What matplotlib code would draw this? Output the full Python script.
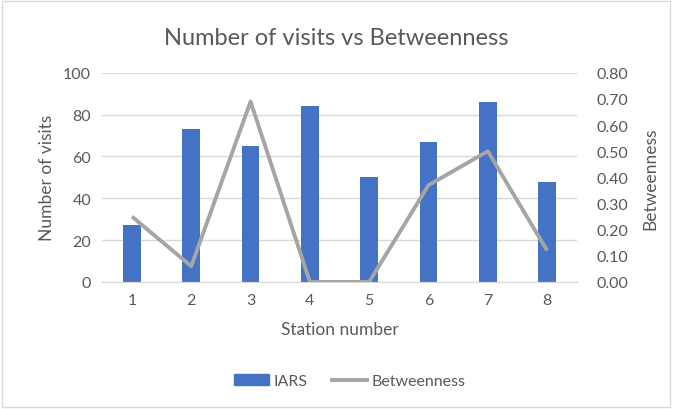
import matplotlib

matplotlib.use("Agg")
import matplotlib.pyplot as plt
from matplotlib.lines import Line2D
from matplotlib.patches import Patch, Rectangle
import numpy as np

plt.rcParams["font.family"] = ["Lato", "DejaVu Sans"]

stations = ["1", "2", "3", "4", "5", "6", "7", "8"]
visits = [27, 73, 65, 84, 50, 67, 86, 48]
betweenness = [0.25, 0.06, 0.69, 0.00, 0.00, 0.37, 0.50, 0.12]

BLUE = "#4472C4"
GREY = "#A5A5A5"
TEXT = "#595959"

fig = plt.figure(figsize=(6.73, 4.10), dpi=100)
ax = fig.add_axes([0.152, 0.310, 0.705, 0.510])
ax2 = ax.twinx()

x = np.arange(len(stations))
ax.bar(x, visits, width=0.3, color=BLUE, zorder=2)
ax2.plot(x, betweenness, color=GREY, linewidth=2.8, solid_capstyle="butt", zorder=3)

ax.set_xlim(-0.5, len(stations) - 0.5)
ax.set_ylim(0, 100)
ax.set_yticks(range(0, 101, 20))
ax2.set_ylim(0, 0.8)
ax2.set_yticks(np.arange(0, 0.81, 0.1))
ax2.set_yticklabels([f"{v:.2f}" for v in np.arange(0, 0.81, 0.1)])
ax.set_xticks(x)
ax.set_xticklabels(stations)

ax.grid(axis="y", color="#D9D9D9", linewidth=1, zorder=0)
ax.set_axisbelow(True)
for a in (ax, ax2):
    for side in ("top", "left", "right"):
        a.spines[side].set_visible(False)
    a.spines["bottom"].set_color("#D9D9D9")
    a.tick_params(length=0, colors=TEXT, labelsize=11.5)
ax.tick_params(axis="y", pad=8)
ax.tick_params(axis="x", pad=8)
ax2.tick_params(axis="y", pad=14)

ax.set_xlabel("Station number", color=TEXT, fontsize=12.5, labelpad=10)
ax.set_ylabel("Number of visits", color=TEXT, fontsize=12.5, labelpad=6)
ax2.set_ylabel("Betweenness", color=TEXT, fontsize=12.5, labelpad=10)

fig.text(0.5, 0.907, "Number of visits vs Betweenness", ha="center", va="center",
         color=TEXT, fontsize=17)

handles = [Patch(color=BLUE), Line2D([], [], color=GREY, linewidth=2.8)]
fig.legend(handles, ["IARS", "Betweenness"], loc="center", bbox_to_anchor=(0.52, 0.068),
           ncol=2, frameon=False, fontsize=11.5, labelcolor=TEXT,
           handlelength=2.2, handletextpad=0.3, columnspacing=1.5)

fig.patches.append(Rectangle((0.003, 0.005), 0.992, 0.99, transform=fig.transFigure,
                             fill=False, edgecolor="#D9D9D9", linewidth=1))

fig.savefig("out.png", dpi=100)
